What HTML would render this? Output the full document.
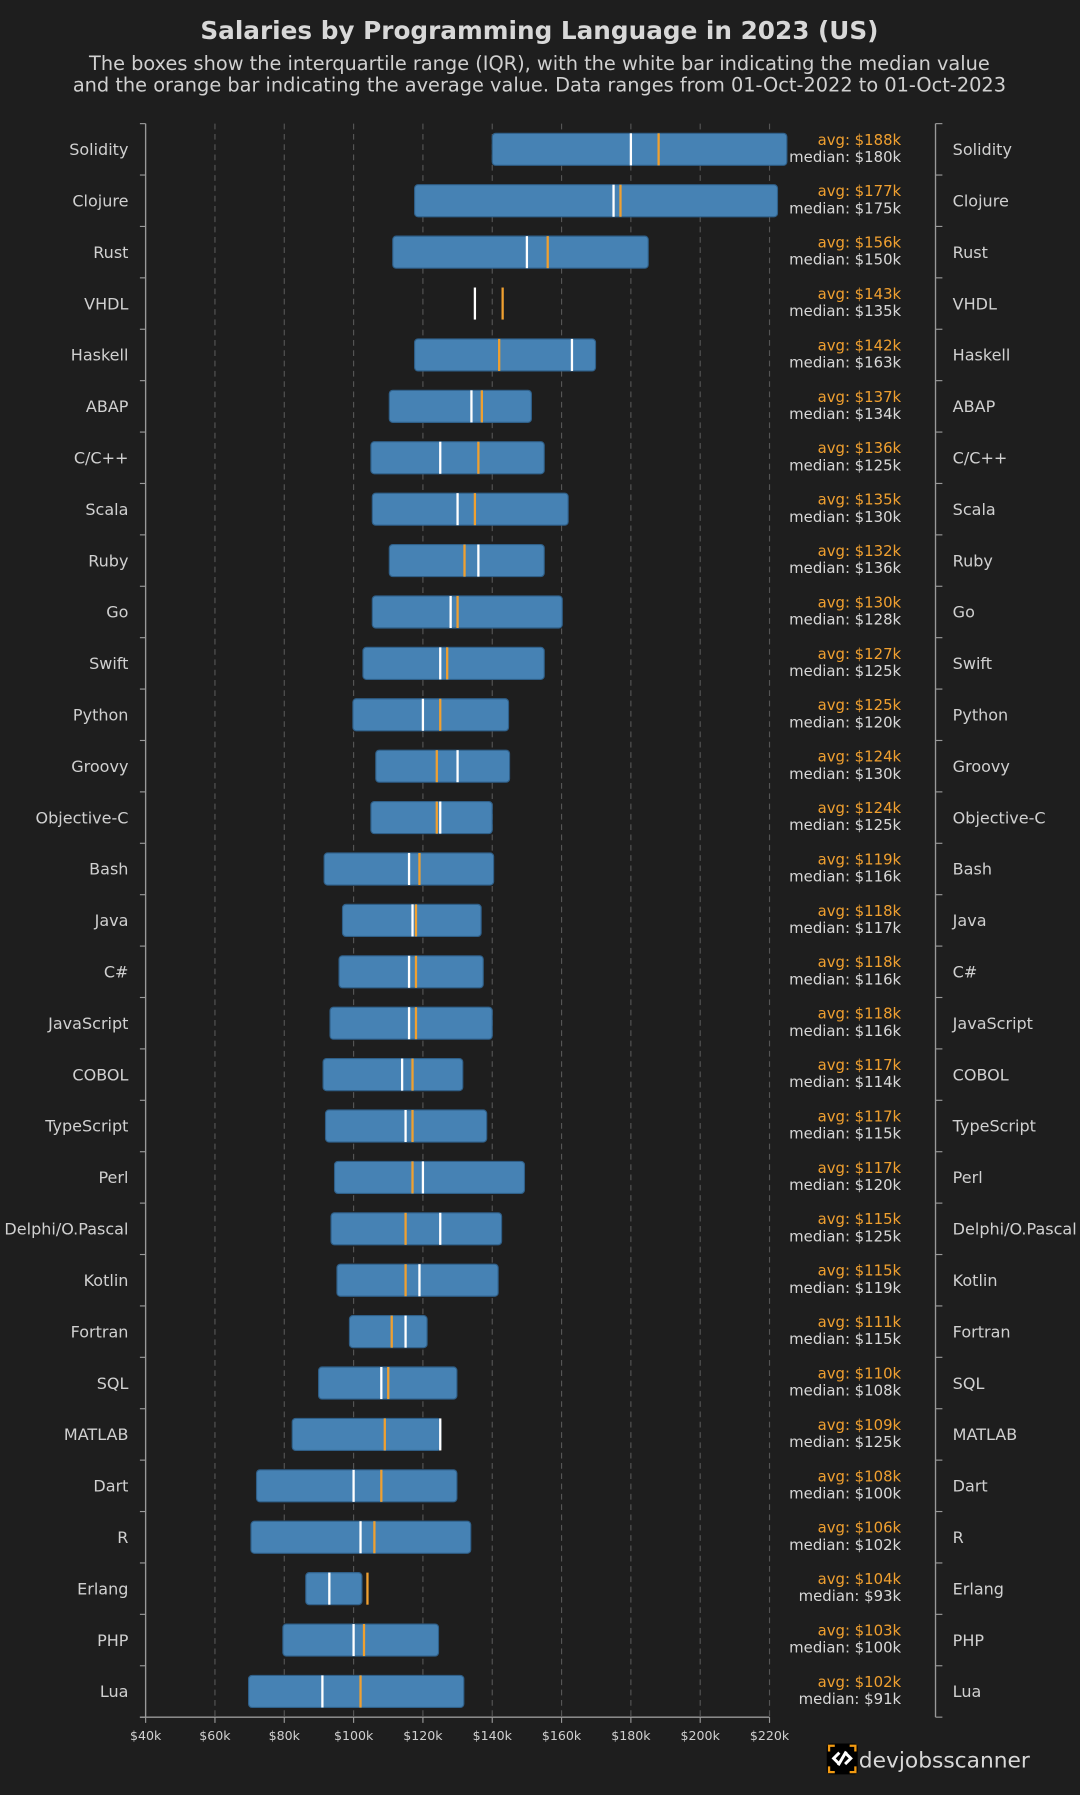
<!DOCTYPE html>
<html><head><meta charset="utf-8">
<style>
html,body{margin:0;padding:0;background:#1e1e1e;}
svg{display:block;font-family:"DejaVu Sans","Liberation Sans",sans-serif;}
</style></head>
<body>
<svg id="chart" width="1080" height="1795" viewBox="0 0 943 1568" xmlns="http://www.w3.org/2000/svg">
<rect x="0" y="0" width="943" height="1568" fill="#1e1e1e"/>
<text x="471" y="34" text-anchor="middle" font-size="21.6" font-weight="bold" fill="#d8d8d8">Salaries by Programming Language in 2023 (US)</text>
<text x="471" y="61" text-anchor="middle" font-size="16.9" fill="#d0d0d0">The boxes show the interquartile range (IQR), with the white bar indicating the median value</text>
<text x="471" y="80" text-anchor="middle" font-size="16.9" fill="#d0d0d0">and the orange bar indicating the average value. Data ranges from 01-Oct-2022 to 01-Oct-2023</text>
<g id="plot"></g>
<g>
<rect x="722" y="1523" width="27" height="27" rx="3" fill="#000"/>
<path d="M724 1530v-5h5 M742 1525h5v5 M747 1543v5h-5 M729 1548h-5v-5" stroke="#f29a12" stroke-width="2" fill="none"/>
<path d="M733 1531l-5 5 5 5 M738 1541l5-5-5-5 M732 1542l7-12" stroke="#fff" stroke-width="2.6" fill="none"/>
<text x="750" y="1544" font-size="19" fill="#d8d8d8">devjobsscanner</text>
</g>
</svg>
<script>
const languages = ["Solidity","Clojure","Rust","VHDL","Haskell","ABAP","C/C++","Scala","Ruby","Go","Swift","Python","Groovy","Objective-C","Bash","Java","C#","JavaScript","COBOL","TypeScript","Perl","Delphi/O.Pascal","Kotlin","Fortran","SQL","MATLAB","Dart","R","Erlang","PHP","Lua"];
const q1 = [140,117.6,111.3,null,117.6,110.3,105,105.4,110.3,105.4,102.7,99.8,106.4,105,91.5,96.8,95.8,93.2,91.2,91.9,94.5,93.5,95.2,98.8,89.9,82.3,72,70.4,86.2,79.6,69.7];
const q3 = [225,222.3,185,null,169.8,151.3,155,161.9,155,160.2,155,144.7,145,140,140.4,136.8,137.4,140,131.5,138.4,149.3,142.7,141.7,121.2,129.8,125.2,129.8,133.8,102.4,124.5,131.8];
const medians = [180,175,150,135,163,134,125,130,136,128,125,120,130,125,116,117,116,116,114,115,120,125,119,115,108,125,100,102,93,100,91];
const averages = [188,177,156,143,142,137,136,135,132,130,127,125,124,124,119,118,118,118,117,117,117,115,115,111,110,109,108,106,104,103,102];
const xTicks = [40,60,80,100,120,140,160,180,200,220];

const NS="http://www.w3.org/2000/svg";
const plot=document.getElementById('plot');
const X0=127,X1=672,V0=40,V1=220,TOP=108,BOT=1500;
const n=languages.length;
const rowH=(BOT-TOP)/n;
const xs=v=>X0+(v-V0)/(V1-V0)*(X1-X0);
const yc=i=>TOP+rowH*(i+0.5);
function mk(tag,attrs,parent){const e=document.createElementNS(NS,tag);for(const k in attrs)e.setAttribute(k,attrs[k]);(parent||plot).appendChild(e);return e;}

xTicks.forEach((t,i)=>{
  if(i>0){const g=mk('line',{x1:xs(t),x2:xs(t),y1:TOP,y2:BOT,stroke:'#555',"stroke-width":1,"stroke-dasharray":"5,4"});
  
  }
  const tk=mk('line',{x1:xs(t),x2:xs(t),y1:BOT,y2:BOT+5,stroke:'#999'});
  
  
  const lb=mk('text',{x:xs(t),y:BOT+20,"text-anchor":"middle","font-size":11,fill:'#d0d0d0'});
  lb.textContent='$'+t+'k';
  
  
});
const la=mk('line',{x1:X0,x2:X0,y1:TOP,y2:BOT,stroke:'#999',"stroke-width":1.2});


const ba=mk('line',{x1:X0-5,x2:X1,y1:BOT,y2:BOT,stroke:'#999',"stroke-width":1.2});


const ra=mk('line',{x1:817,x2:817,y1:TOP,y2:BOT,stroke:'#999',"stroke-width":1.2});


for(let i=0;i<=n;i++){
  const y=TOP+rowH*i;
  const a=mk('line',{x1:X0-5,x2:X0,y1:y,y2:y,stroke:'#999'});
  
  
  const b=mk('line',{x1:817,x2:823,y1:y,y2:y,stroke:'#999'});
  
  
}
languages.forEach((lang,i)=>{
  const y=yc(i);
  const slug=lang.toLowerCase().replace(/[^a-z0-9]+/g,'-');
  const l=mk('text',{x:112,y:y+5,"text-anchor":"end","font-size":14,fill:'#d0d0d0'});
  l.textContent=lang;
  
  
  const r=mk('text',{x:832,y:y+5,"font-size":14,fill:'#d0d0d0'});
  r.textContent=lang;
  
  
  if(q1[i]!=null){
    const bx=mk('rect',{x:xs(q1[i]),y:y-14,width:xs(q3[i])-xs(q1[i]),height:28,rx:3,fill:'#4682b4',stroke:'#2f5f88',"stroke-width":1});
    
    
  }
  const m=mk('line',{x1:xs(medians[i]),x2:xs(medians[i]),y1:y-14,y2:y+14,stroke:'#fff',"stroke-width":2});
  
  
  const a=mk('line',{x1:xs(averages[i]),x2:xs(averages[i]),y1:y-14,y2:y+14,stroke:'#f0a030',"stroke-width":2});
  
  
  const at=mk('text',{x:787,y:y-4,"text-anchor":"end","font-size":13,fill:'#f0a030'});
  at.textContent='avg: $'+averages[i]+'k';
  
  
  const mt=mk('text',{x:787,y:y+11,"text-anchor":"end","font-size":13,fill:'#d8d8d8'});
  mt.textContent='median: $'+medians[i]+'k';
  
  
});
</script>
</body></html>
